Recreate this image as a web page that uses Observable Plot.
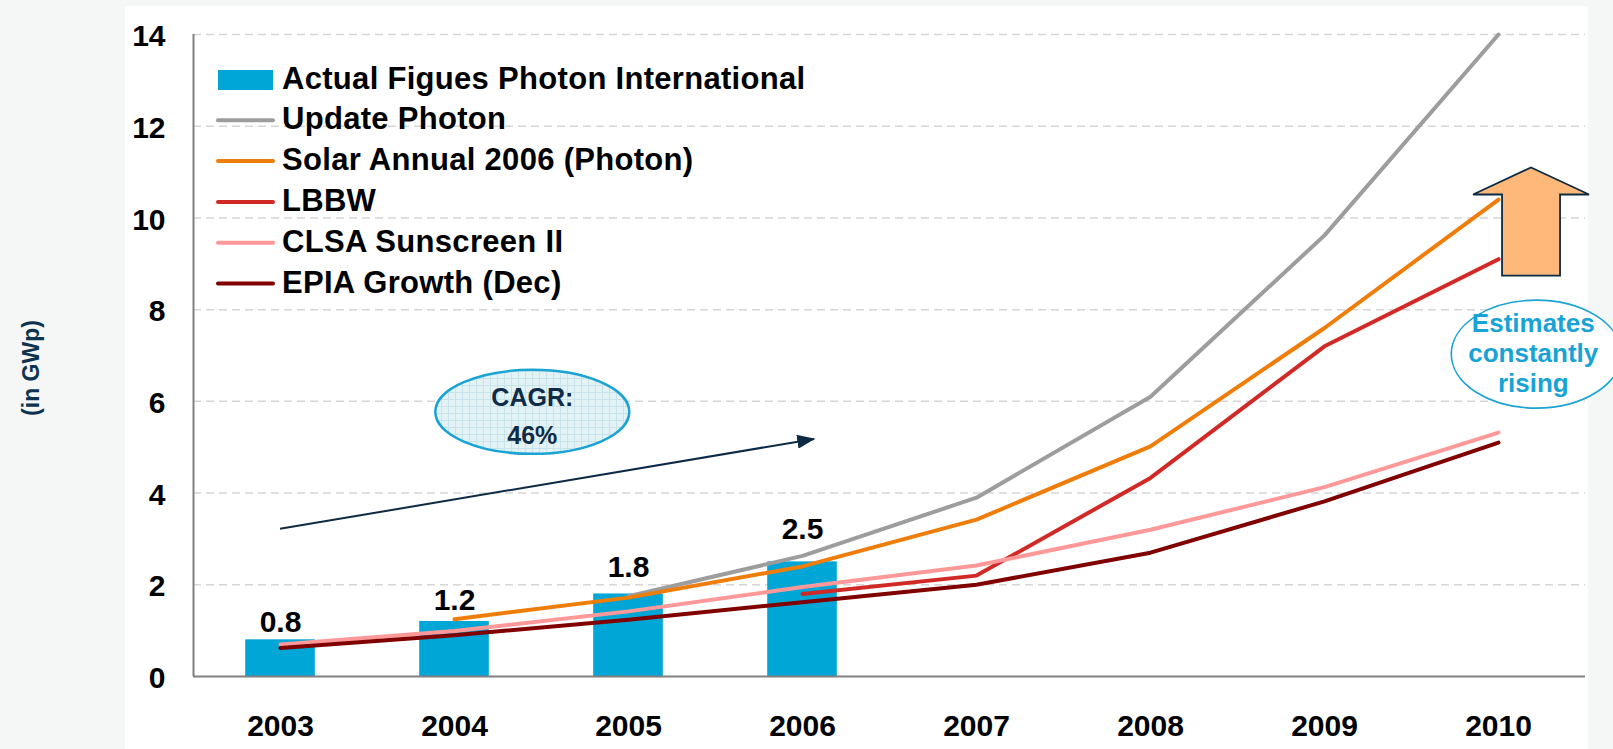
<!DOCTYPE html>
<html><head><meta charset="utf-8">
<script src="https://cdn.jsdelivr.net/npm/d3@7"></script>
<script src="https://cdn.jsdelivr.net/npm/@observablehq/plot@0.6"></script>
<style>
body{margin:0;background:#f5f7f7;overflow:hidden;}
#chart{position:relative;width:1613px;height:749px;}
#chart svg{display:block;}
</style></head><body><div id="chart"></div>
<script>
const years = [2003, 2004, 2005, 2006, 2007, 2008, 2009, 2010];
const actualYears = [2003, 2004, 2005, 2006];
const actualValues = [0.8, 1.2, 1.8, 2.5];
const updatePhoton    = [null, null, 1.75, 2.63, 3.9, 6.1, 9.62, 14.0];
const solarAnnual2006 = [null, 1.25, 1.72, 2.4, 3.42, 5.02, 7.6, 10.4];
const lbbw            = [null, null, null, 1.8, 2.2, 4.33, 7.2, 9.1];
const clsa            = [0.7, 0.99, 1.42, 1.95, 2.42, 3.2, 4.13, 5.32];
const epia            = [0.62, 0.9, 1.24, 1.62, 2.0, 2.7, 3.82, 5.1];
const seriesNames = ["Actual Figues Photon International", "Update Photon", "Solar Annual 2006 (Photon)", "LBBW", "CLSA Sunscreen II", "EPIA Growth (Dec)"];
const seriesColors = ["#00a6d6", "#9d9d9d", "#ef7d0a", "#d12a26", "#ff9999", "#800000"];
const yTicks = [0, 2, 4, 6, 8, 10, 12, 14];
const yAxisTitle = "(in GWp)";
const cagrText = ["CAGR:", "46%"];
const estimateText = ["Estimates", "constantly", "rising"];

const lineSeries = [updatePhoton, solarAnnual2006, lbbw, clsa, epia];
const lineData = lineSeries.flatMap((vals, i) =>
  years.map((yr, j) => ({series: seriesNames[i + 1], year: yr, value: vals[j]})).filter(d => d.value != null));
const bars = actualYears.map((yr, i) => ({year: yr, value: actualValues[i]}));

const FONT = "'Liberation Sans', Arial, Helvetica, sans-serif";

const chart = Plot.plot({
  width: 1613, height: 749,
  marginTop: 34, marginBottom: 73, marginLeft: 193, marginRight: 28,
  style: {background: "transparent", fontFamily: FONT, fontSize: "30px", fontWeight: "bold", color: "#000", overflow: "visible"},
  x: {domain: [2002.5, 2010.5]},
  y: {domain: [0, 14]},
  color: {domain: seriesNames.slice(1), range: seriesColors.slice(1)},
  marks: [
    Plot.gridY(yTicks.slice(1), {stroke: "#d6d6d6", strokeOpacity: 1, strokeWidth: 1.5, strokeDasharray: "8,5"}),
    Plot.rectY(bars, {x1: d => d.year - 0.2, x2: d => d.year + 0.2, y1: 0, y2: "value", fill: seriesColors[0]}),
    Plot.line(lineData, {x: "year", y: "value", z: "series", stroke: "series", strokeWidth: 4, strokeLinejoin: "round"}),
    Plot.text(bars, {x: "year", y: d => d.value * 1.2, text: d => d.value.toFixed(1), lineAnchor: "bottom", fontSize: 30, fontWeight: "bold", fill: "#000"}),
    Plot.ruleY([0], {stroke: "#808080", strokeWidth: 2}),
    Plot.ruleX([2002.5], {stroke: "#808080", strokeWidth: 2}),
    Plot.axisY({ticks: yTicks, tickSize: 0, tickPadding: 28, label: null, fontSize: 30, fontWeight: "bold", dy: 2}),
    Plot.axisX({ticks: years, tickFormat: d => String(d), tickSize: 0, tickPadding: 38, label: null, fontSize: 30, fontWeight: "bold"})
  ]
});
document.getElementById("chart").appendChild(chart);

const svg = d3.select(chart);
const sx = chart.scale("x"), sy = chart.scale("y");
const X = v => sx.apply(v), Y = v => sy.apply(v);

// white panel
svg.insert("rect", ":first-child").attr("x", 125).attr("y", 6).attr("width", 1463).attr("height", 760).attr("fill", "#ffffff");

const defs = svg.append("defs");
defs.append("marker").attr("id", "ahead").attr("markerUnits", "userSpaceOnUse")
  .attr("markerWidth", 18).attr("markerHeight", 14).attr("refX", 17).attr("refY", 7).attr("orient", "auto")
  .append("path").attr("d", "M0,0 L18,7 L0,14 Z").attr("fill", "#0d2a45");
const pat = defs.append("pattern").attr("id", "gridpat").attr("patternUnits", "userSpaceOnUse").attr("width", 7).attr("height", 7);
pat.append("rect").attr("width", 7).attr("height", 7).attr("fill", "#e2f2f5");
pat.append("path").attr("d", "M0,0.5 H7 M0.5,0 V7").attr("stroke", "#c8e4ea").attr("stroke-width", 1);

// y-axis title
svg.append("text").attr("transform", "translate(31,368) rotate(-90)").attr("text-anchor", "middle")
  .attr("dy", "0.35em").attr("fill", "#0d3350").style("font", `bold 23px ${FONT}`).text(yAxisTitle);

// legend
const lg = svg.append("g").attr("text-anchor", "start").style("font", `bold 31px ${FONT}`).style("letter-spacing", "0.3px");
seriesNames.forEach((name, i) => {
  const base = 88.5 + i * 40.8;
  if (i === 0) {
    lg.append("rect").attr("x", 218).attr("y", base - 18.5).attr("width", 55).attr("height", 20).attr("fill", seriesColors[i]);
  } else {
    lg.append("line").attr("x1", 218).attr("x2", 273).attr("y1", base - 9).attr("y2", base - 9)
      .attr("stroke", seriesColors[i]).attr("stroke-width", 4).attr("stroke-linecap", "round");
  }
  lg.append("text").attr("x", 282).attr("y", base).attr("text-anchor", "start").attr("fill", "#000").text(name);
});

// CAGR arrow
svg.append("line").attr("x1", X(2003)).attr("y1", Y(3.21)).attr("x2", X(2006.07)).attr("y2", Y(5.17))
  .attr("stroke", "#0d2a45").attr("stroke-width", 2).attr("marker-end", "url(#ahead)");

// CAGR ellipse
const cx = X(2004.45), cy = Y(5.76);
svg.append("ellipse").attr("cx", cx).attr("cy", cy).attr("rx", 97).attr("ry", 42)
  .attr("fill", "url(#gridpat)").attr("stroke", "#1aa3d3").attr("stroke-width", 2.5);
const ct = svg.append("text").attr("text-anchor", "middle").attr("fill", "#0f2b46").style("font", `bold 25px ${FONT}`);
cagrText.forEach((t, i) => ct.append("tspan").attr("x", cx).attr("y", cy - 6 + i * 38).text(t));

// Up arrow
const ax = X(2010.19), tipY = Y(11.09), baseY = Y(10.5), botY = Y(8.73);
const pts = [[ax, tipY], [ax + 58, baseY], [ax + 29, baseY], [ax + 29, botY], [ax - 29, botY], [ax - 29, baseY], [ax - 58, baseY]];
svg.append("polygon").attr("points", pts.map(p => p.join(",")).join(" "))
  .attr("fill", "#fdb87a").attr("stroke", "#0d2a45").attr("stroke-width", 1.8).attr("stroke-linejoin", "miter");

// Estimates ellipse
const ex = X(2010.22), ey = Y(7.02);
svg.append("ellipse").attr("cx", ex).attr("cy", ey).attr("rx", 85).attr("ry", 54)
  .attr("fill", "#ffffff").attr("stroke", "#1aa3d3").attr("stroke-width", 1.6);
const et = svg.append("text").attr("text-anchor", "middle").attr("fill", "#17a3d6").style("font", `bold 26px ${FONT}`);
estimateText.forEach((t, i) => et.append("tspan").attr("x", ex - 3).attr("y", ey - 22 + i * 30).text(t));
</script>
</body></html>
